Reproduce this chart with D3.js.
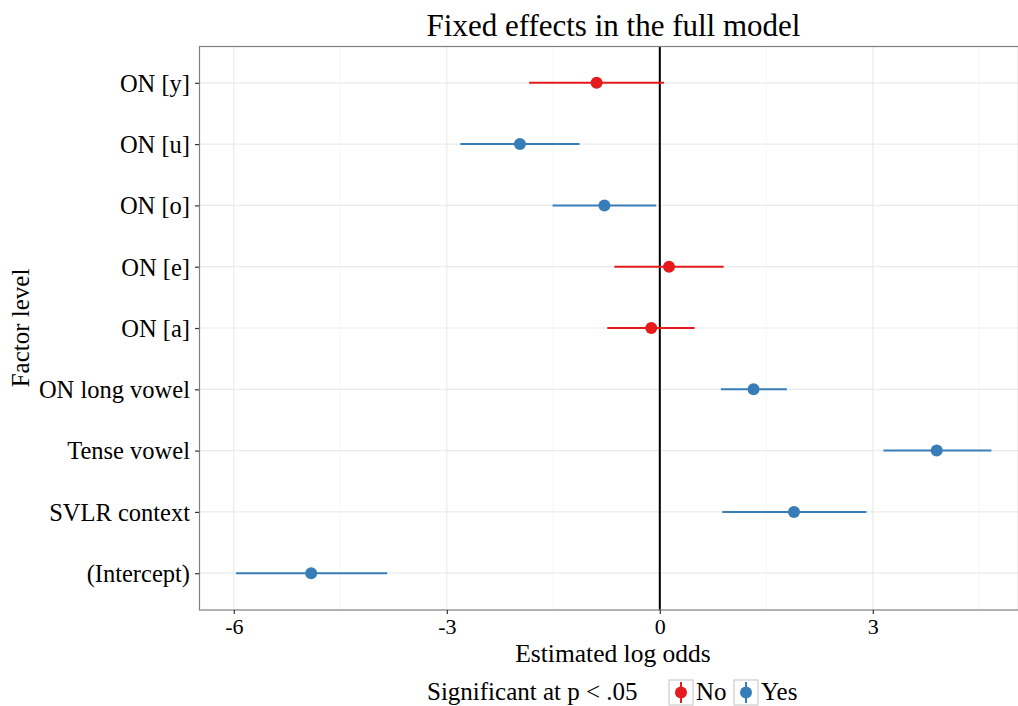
<!DOCTYPE html>
<html><head><meta charset="utf-8">
<script src="https://cdn.jsdelivr.net/npm/d3@7"></script>
<style>body{margin:0;background:#fff}svg{display:block}text{font-family:"Liberation Serif",serif;fill:#000}</style>
</head><body>
<svg id="c" width="1018" height="706"></svg>
<script>
const categories = ["ON [y]","ON [u]","ON [o]","ON [e]","ON [a]","ON long vowel","Tense vowel","SVLR context","(Intercept)"];
const estimates = [-0.89,-1.97,-0.78,0.13,-0.12,1.32,3.90,1.89,-4.91];
const lower =     [-1.84,-2.81,-1.51,-0.64,-0.74,0.86,3.15,0.88,-5.97];
const upper =     [0.06,-1.13,-0.05,0.90,0.49,1.79,4.67,2.91,-3.84];
const significant = ["No","Yes","Yes","No","No","Yes","Yes","Yes","Yes"];
const xTicks = [-6,-3,0,3];
const xMinor = [-4.5,-1.5,1.5,4.5];
const legendLevels = ["No","Yes"];

const svg = d3.select("#c");
const L=199, R=1018, T=46, B=610;
const x = d3.scaleLinear().domain([-6.49,5.045]).range([L,R]);
const y = d3.scalePoint().domain(categories).range([T,B]).padding(0.6);
const color = d3.scaleOrdinal().domain(legendLevels).range(["#E41A1C","#377EB8"]);

const data = categories.map((c,i)=>({c,est:estimates[i],lo:lower[i],hi:upper[i],sig:significant[i]}));

// grid
const g = svg.append("g");
g.selectAll(".mn").data(xMinor).join("line").attr("x1",d=>x(d)).attr("x2",d=>x(d)).attr("y1",T).attr("y2",B).attr("stroke","#F5F5F5").attr("stroke-width",1);
g.selectAll(".mj").data(xTicks).join("line").attr("x1",d=>x(d)).attr("x2",d=>x(d)).attr("y1",T).attr("y2",B).attr("stroke","#EBEBEB").attr("stroke-width",1.2);
g.selectAll(".my").data(categories).join("line").attr("x1",L).attr("x2",R).attr("y1",d=>y(d)).attr("y2",d=>y(d)).attr("stroke","#EBEBEB").attr("stroke-width",1.2);

// zero line
svg.append("line").attr("x1",x(0)).attr("x2",x(0)).attr("y1",T).attr("y2",B).attr("stroke","#000").attr("stroke-width",2);

// ranges and points
svg.selectAll(".rng").data(data).join("line")
  .attr("x1",d=>x(d.lo)).attr("x2",d=>x(d.hi)).attr("y1",d=>y(d.c)).attr("y2",d=>y(d.c))
  .attr("stroke",d=>color(d.sig)).attr("stroke-width",2);
svg.selectAll(".pt").data(data).join("circle")
  .attr("cx",d=>x(d.est)).attr("cy",d=>y(d.c)).attr("r",6).attr("fill",d=>color(d.sig));

// border
svg.append("rect").attr("x",L+0.5).attr("y",T+0.5).attr("width",R-L).attr("height",B-T-0.5).attr("fill","none").attr("stroke","#7F7F7F").attr("stroke-width",1.2);

// axes
const xa = svg.append("g").attr("transform",`translate(0,${B})`)
  .call(d3.axisBottom(x).tickValues(xTicks).tickSize(4).tickPadding(4).tickFormat(d=>d<0?"-"+Math.abs(d):d));
xa.select(".domain").remove();
xa.selectAll("line").attr("stroke","#333").attr("stroke-width",1.2);
xa.selectAll("text").attr("font-size",22).attr("font-family","Liberation Serif");

const ya = svg.append("g").attr("transform",`translate(${L},0)`)
  .call(d3.axisLeft(y).tickSize(4).tickPadding(5));
ya.select(".domain").remove();
ya.selectAll("line").attr("stroke","#333").attr("stroke-width",1.2);
ya.selectAll("text").attr("font-size",24.5).attr("font-family","Liberation Serif").attr("dy","0.34em");

// titles
svg.append("text").attr("x",(L+R)/2+5).attr("y",36).attr("text-anchor","middle").attr("font-size",31).text("Fixed effects in the full model");
svg.append("text").attr("x",613).attr("y",662).attr("text-anchor","middle").attr("font-size",25.5).text("Estimated log odds");
svg.append("text").attr("transform","translate(29,328) rotate(-90)").attr("text-anchor","middle").attr("font-size",25).text("Factor level");

// legend
svg.append("text").attr("x",427).attr("y",700).attr("font-size",25).text("Significant at p < .05");
const lx = [669,734];
const lg = svg.selectAll(".lg").data(legendLevels).join("g").attr("transform",(d,i)=>`translate(${lx[i]},680)`);
lg.append("rect").attr("x",0).attr("y",0).attr("width",24).attr("height",25).attr("fill","#fff").attr("stroke","#CCCCCC").attr("stroke-width",1.2);
lg.append("line").attr("x1",12).attr("x2",12).attr("y1",2).attr("y2",23).attr("stroke",d=>color(d)).attr("stroke-width",2);
lg.append("circle").attr("cx",12).attr("cy",12.5).attr("r",6).attr("fill",d=>color(d));
lg.append("text").attr("x",27).attr("y",20).attr("font-size",25).text(d=>d);
</script>
</body></html>
